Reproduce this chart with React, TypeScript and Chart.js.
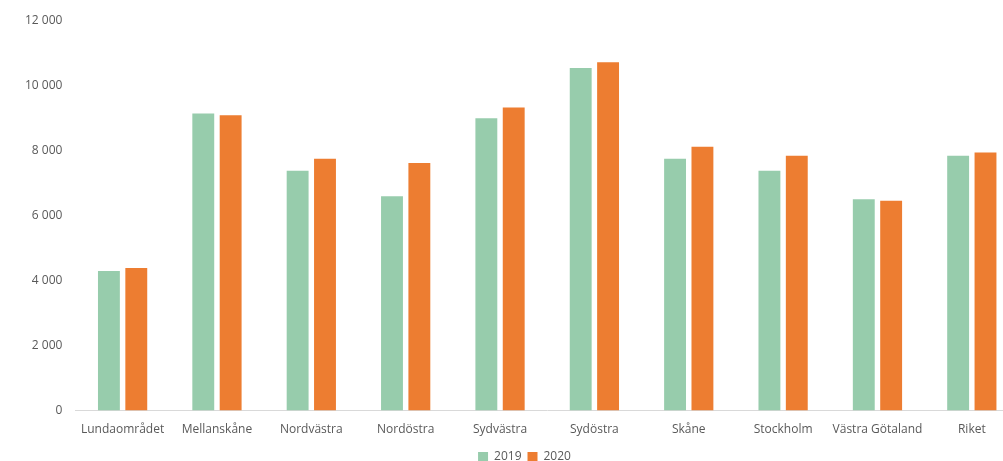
import React, { useEffect, useRef } from "react";
import { Chart, registerables } from "chart.js";

Chart.register(...registerables);

const categories = [
  "Lundaområdet",
  "Mellanskåne",
  "Nordvästra",
  "Nordöstra",
  "Sydvästra",
  "Sydöstra",
  "Skåne",
  "Stockholm",
  "Västra Götaland",
  "Riket",
];
const values2019 = [4290, 9130, 7370, 6590, 8990, 10530, 7740, 7370, 6500, 7830];
const values2020 = [4380, 9080, 7740, 7610, 9320, 10710, 8110, 7830, 6450, 7930];
const seriesLabels = ["2019", "2020"];
const yMax = 12000;
const yStep = 2000;

const fontFamily = "'Open Sans', 'DejaVu Sans', sans-serif";
const textColor = "#595959";

const legendShift = {
  id: "legendShift",
  afterLayout(chart: any) {
    const lg = chart.legend;
    if (!lg) return;
    lg.left += 9;
    lg.right += 9;
    lg.top -= 4;
    lg.bottom -= 4;
  },
};

export default function App() {
  const ref = useRef<HTMLCanvasElement | null>(null);

  useEffect(() => {
    document.body.style.margin = "0";
    if (!ref.current) return;
    const chart = new Chart(ref.current, {
      type: "bar",
      data: {
        labels: categories,
        datasets: [
          {
            label: seriesLabels[0],
            data: values2019,
            backgroundColor: "#97CCAC",
            borderWidth: 0,
            categoryPercentage: 0.58,
            barPercentage: 0.8,
          },
          {
            label: seriesLabels[1],
            data: values2020,
            backgroundColor: "#ED7D31",
            borderWidth: 0,
            categoryPercentage: 0.58,
            barPercentage: 0.8,
          },
        ],
      },
      plugins: [legendShift],
      options: {
        responsive: false,
        animation: false,
        maintainAspectRatio: false,
        layout: { padding: { top: 8, right: 0, left: 12, bottom: -16 } },
        plugins: {
          legend: {
            position: "bottom",
            labels: {
              boxWidth: 10,
              boxHeight: 10,
              padding: 6,
              color: textColor,
              font: { family: fontFamily, size: 12 },
            },
          },
          tooltip: { enabled: false },
        },
        scales: {
          x: {
            grid: { display: false, drawTicks: false },
            border: { display: true, color: "#D9D9D9", width: 1 },
            ticks: {
              color: textColor,
              padding: 12,
              maxRotation: 0,
              autoSkip: false,
              font: { family: fontFamily, size: 12 },
            },
          },
          y: {
            min: 0,
            max: yMax,
            grid: { display: false, drawTicks: false },
            border: { display: false },
            ticks: {
              stepSize: yStep,
              color: textColor,
              padding: 13,
              font: { family: fontFamily, size: 12 },
              callback: (v: any) =>
                Number(v)
                  .toString()
                  .replace(/\B(?=(\d{3})+(?!\d))/g, " "),
            },
          },
        },
      },
    });
    return () => chart.destroy();
  }, []);

  return (
    <div style={{ width: 1003, height: 461, overflow: "hidden" }}>
      <canvas ref={ref} width={1019} height={461} style={{ display: "block" }} />
    </div>
  );
}
